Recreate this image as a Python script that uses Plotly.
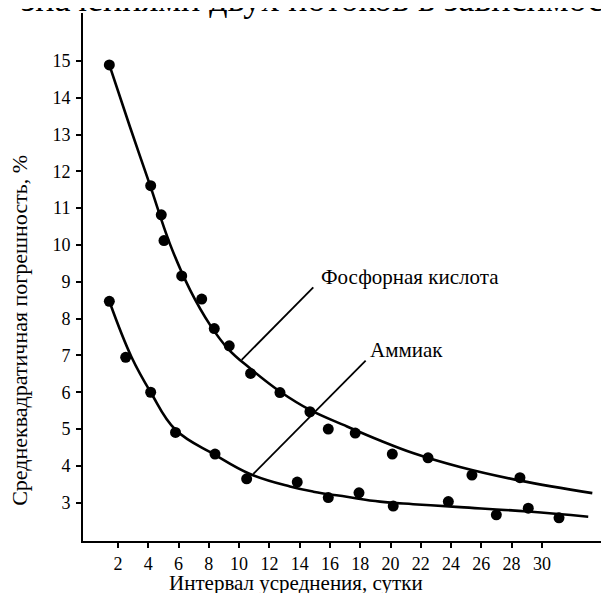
import plotly.graph_objects as go

# ---------------- data ----------------
# Фосфорная кислота: measured points
phos_x = [1.43, 4.16, 4.86, 5.04, 6.21, 7.53, 8.36, 9.35, 10.76, 12.70, 14.68, 15.89, 17.67, 20.12, 22.48, 25.38, 28.55]
phos_y = [14.89, 11.61, 10.82, 10.12, 9.16, 8.53, 7.73, 7.26, 6.51, 5.99, 5.47, 5.00, 4.89, 4.32, 4.22, 3.75, 3.68]
# Фосфорная кислота: drawn smooth curve
phos_curve_x = [1.43, 2.79, 4.11, 5.43, 6.76, 8.08, 9.27, 10.72, 12.70, 14.68, 17.13, 19.31, 21.48, 24.59, 28.55, 33.33]
phos_curve_y = [14.89, 13.21, 11.63, 10.03, 8.78, 7.83, 7.18, 6.65, 6.02, 5.52, 5.07, 4.69, 4.35, 3.97, 3.60, 3.26]

# Аммиак: measured points
amm_x = [1.43, 2.51, 4.16, 5.80, 8.41, 10.50, 13.84, 15.89, 17.92, 20.18, 23.82, 26.99, 29.10, 31.13]
amm_y = [8.47, 6.95, 6.00, 4.91, 4.32, 3.65, 3.56, 3.14, 3.27, 2.91, 3.03, 2.67, 2.85, 2.59]
# Аммиак: drawn smooth curve
amm_curve_x = [1.43, 2.90, 4.16, 5.80, 8.41, 10.72, 13.36, 14.90, 17.11, 19.31, 21.50, 24.59, 29.10, 33.06]
amm_curve_y = [8.47, 6.95, 6.00, 4.98, 4.30, 3.78, 3.44, 3.30, 3.16, 3.03, 2.96, 2.88, 2.76, 2.62]

x_ticks = list(range(2, 31, 2))
y_ticks = list(range(3, 16))

x_title = "Интервал усреднения, сутки"
y_title = "Среднеквадратичная погрешность, %"
label_phos = "Фосфорная кислота"
label_amm = "Аммиак"
top_text = "значениями двух потоков в зависимости"

# ---------------- figure ----------------
FONT = "Liberation Serif"
X_RANGE = [-0.31, 34.30]
Y_RANGE = [1.96, 16.30]

fig = go.Figure()

line_style = dict(color="black", width=2.6, shape="spline", smoothing=1.15)
fig.add_trace(go.Scatter(x=phos_curve_x, y=phos_curve_y, mode="lines", line=line_style,
                         hoverinfo="skip", showlegend=False))
fig.add_trace(go.Scatter(x=amm_curve_x, y=amm_curve_y, mode="lines", line=line_style,
                         hoverinfo="skip", showlegend=False))
fig.add_trace(go.Scatter(x=phos_x, y=phos_y, mode="markers", name=label_phos,
                         marker=dict(color="black", size=11), showlegend=False))
fig.add_trace(go.Scatter(x=amm_x, y=amm_y, mode="markers", name=label_amm,
                         marker=dict(color="black", size=11), showlegend=False))

# leader lines from labels to curves
leader = dict(color="black", width=1.8)
fig.add_shape(type="line", xref="x", yref="y", x0=14.90, y0=8.85, x1=10.17, y1=6.88, line=leader)
fig.add_shape(type="line", xref="x", yref="y", x0=18.36, y0=6.86, x1=10.94, y1=3.78, line=leader)

fig.add_annotation(x=15.28, y=9.12, xref="x", yref="y", text=label_phos, showarrow=False,
                   xanchor="left", yanchor="middle", font=dict(family=FONT, size=21, color="black"))
fig.add_annotation(x=18.51, y=7.14, xref="x", yref="y", text=label_amm, showarrow=False,
                   xanchor="left", yanchor="middle", font=dict(family=FONT, size=21, color="black"))

# axis titles
fig.add_annotation(x=0.4065, y=-0.106, xref="paper", yref="paper", text=x_title, showarrow=False,
                   xanchor="center", yanchor="bottom", font=dict(family=FONT, size=21, color="black"))
fig.add_annotation(x=-0.1202, y=0.398, xref="paper", yref="paper", text=y_title, showarrow=False,
                   textangle=-90, xanchor="center", yanchor="middle",
                   font=dict(family=FONT, size=22, color="black"))

# clipped heading text at the very top of the page
fig.add_annotation(x=-0.122, y=0.985, xref="paper", yref="paper", text=top_text, showarrow=False,
                   xanchor="left", yanchor="bottom", font=dict(family=FONT, size=36, color="black"))

axis_common = dict(showgrid=False, zeroline=False, tickcolor="black", tickwidth=1.8, ticklen=5)
# the page body adds an 8 px offset, so the figure is 8 px smaller on each side
fig.update_layout(
    width=601, height=585,
    margin=dict(l=75, r=2, t=5, b=52),
    paper_bgcolor="white", plot_bgcolor="white",
    font=dict(family=FONT, size=18, color="black"),
    showlegend=False,
    xaxis=dict(range=X_RANGE, tickvals=x_ticks, ticks="outside", showline=True, linecolor="black",
               linewidth=2, mirror=False, tickfont=dict(family=FONT, size=18), automargin=False,
               **axis_common),
    yaxis=dict(range=Y_RANGE, tickvals=y_ticks, ticks="outside", showline=True, linecolor="black",
               linewidth=2, mirror=False, tickfont=dict(family=FONT, size=18), automargin=False,
               ticklabelstandoff=2, **axis_common),
    xaxis2=dict(range=X_RANGE, tickvals=x_ticks, ticks="inside", overlaying="x", anchor="y",
                showline=False, showticklabels=False, **axis_common),
    yaxis2=dict(range=Y_RANGE, tickvals=y_ticks, ticks="inside", overlaying="y", anchor="x", side="left",
                showline=False, showticklabels=False, **axis_common),
)

fig.write_html("out.html")
